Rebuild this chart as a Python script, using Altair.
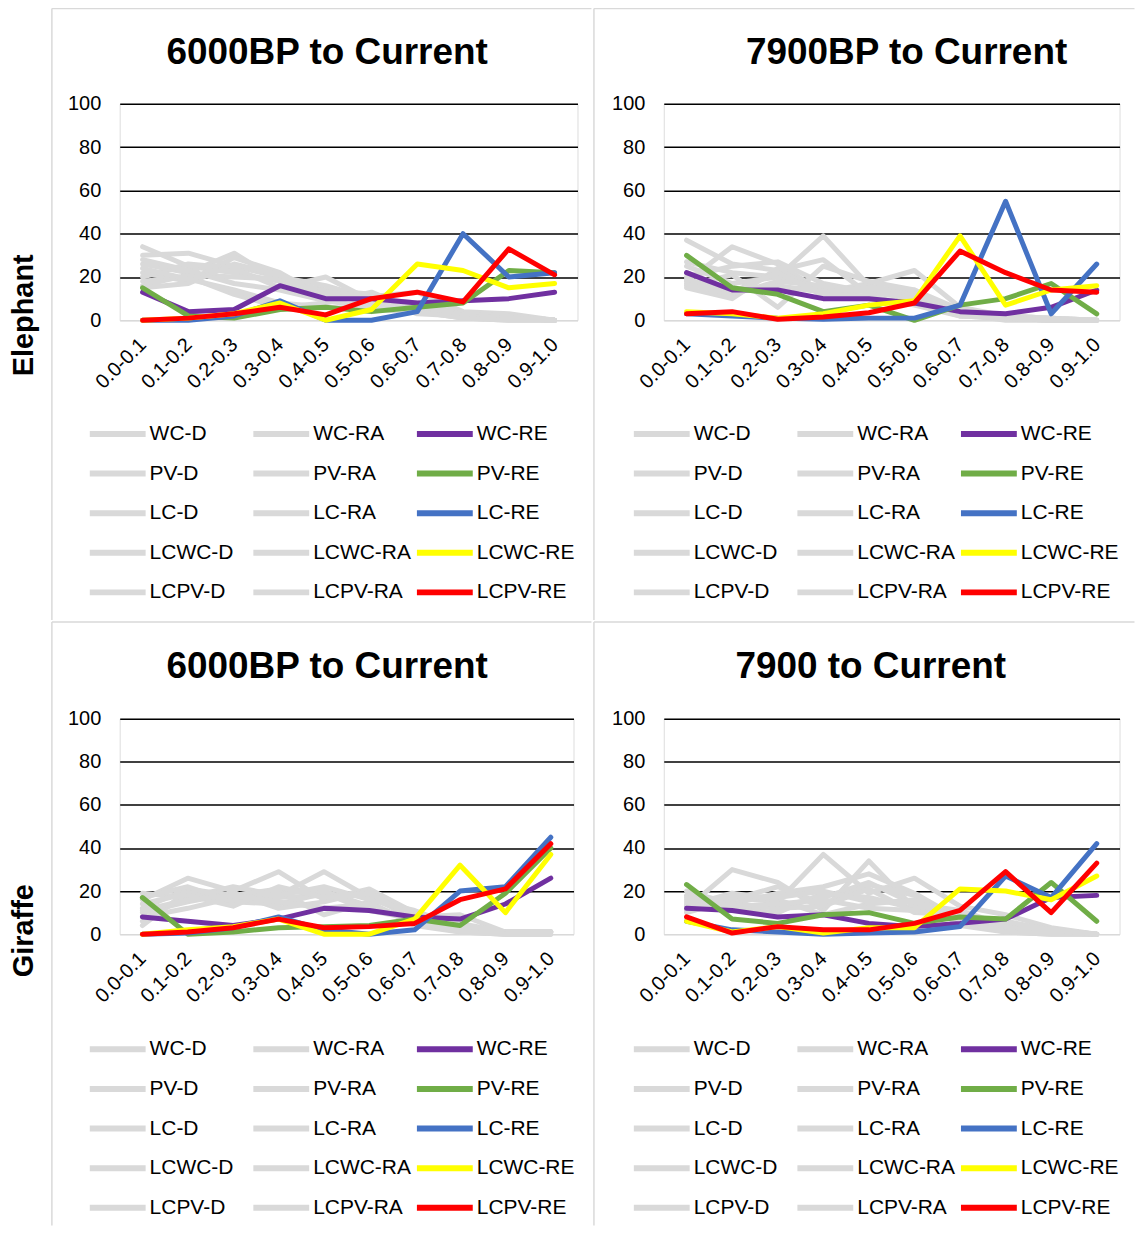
import altair as alt
import pandas as pd

CATS = ["0.0-0.1", "0.1-0.2", "0.2-0.3", "0.3-0.4", "0.4-0.5",
        "0.5-0.6", "0.6-0.7", "0.7-0.8", "0.8-0.9", "0.9-1.0"]
SERIES = ["WC-D", "WC-RA", "WC-RE", "PV-D", "PV-RA", "PV-RE",
          "LC-D", "LC-RA", "LC-RE", "LCWC-D", "LCWC-RA", "LCWC-RE",
          "LCPV-D", "LCPV-RA", "LCPV-RE"]
RE_SERIES = ["WC-RE", "PV-RE", "LC-RE", "LCWC-RE", "LCPV-RE"]
RE_COLORS = ["#7030A0", "#70AD47", "#4472C4", "#FFFF00", "#FF0000"]
GRAY = "#D9D9D9"

# Elephant, 6000BP to Current
ELE_6000 = {
    "WC-D":    [34, 25, 22, 18, 14, 12, 6, 2, 1, 0],
    "WC-RA":   [30, 31, 25, 20, 16, 10, 8, 3, 2, 0],
    "WC-RE":   [13, 4, 5, 16, 10, 10, 8, 9, 10, 13],
    "PV-D":    [26, 22, 31, 18, 12, 8, 5, 1, 0, 0],
    "PV-RA":   [22, 18, 29, 22, 10, 11, 13, 4, 3, 0],
    "PV-RE":   [15, 2, 1, 5, 6, 4, 6, 8, 23, 22],
    "LC-D":    [20, 26, 24, 15, 20, 9, 6, 2, 2, 0],
    "LC-RA":   [18, 20, 12, 6, 8, 13, 4, 1, 1, 0],
    "LC-RE":   [0, 0, 2, 9, 0, 0, 4, 40, 20, 22],
    "LCWC-D":  [16, 21, 20, 19, 13, 11, 3, 2, 1, 0],
    "LCWC-RA": [28, 23, 17, 14, 9, 6, 5, 3, 2, 0],
    "LCWC-RE": [0, 1, 3, 8, 0, 5, 26, 23, 15, 17],
    "LCPV-D":  [15, 17, 26, 21, 11, 10, 7, 2, 1, 0],
    "LCPV-RA": [24, 19, 14, 8, 6, 5, 4, 1, 0, 0],
    "LCPV-RE": [0, 1, 3, 6, 2.5, 10, 13, 8.5, 33, 21],
}

# Elephant, 7900BP to Current
ELE_7900 = {
    "WC-D":    [37, 26, 23, 28, 12, 14, 5, 2, 1, 0],
    "WC-RA":   [18, 34, 26, 13, 17, 23, 6, 2, 0, 0],
    "WC-RE":   [22, 14, 14, 10, 10, 8, 4, 3, 6, 14],
    "PV-D":    [27, 22, 20, 39, 16, 12, 3, 1, 0, 0],
    "PV-RA":   [20, 25, 27, 17, 13, 10, 4, 2, 1, 0],
    "PV-RE":   [30, 15, 12, 4, 7, 0, 7, 10, 17, 3],
    "LC-D":    [16, 21, 6, 25, 18, 14, 2, 1, 0, 0],
    "LC-RA":   [15, 10, 24, 11, 14, 12, 3, 1, 0, 0],
    "LC-RE":   [3, 2, 1, 0.5, 1, 1, 7, 55, 3, 26],
    "LCWC-D":  [25, 17, 20, 14, 10, 8, 2, 1, 0, 0],
    "LCWC-RA": [17, 12, 18, 16, 13, 11, 5, 2, 1, 0],
    "LCWC-RE": [4, 3, 1, 3, 7, 9, 39, 7, 14, 16],
    "LCPV-D":  [22, 14, 16, 13, 15, 9, 3, 0, 0, 0],
    "LCPV-RA": [19, 13, 22, 12, 11, 7, 2, 1, 0, 0],
    "LCPV-RE": [3, 4, 0.5, 1.5, 3.5, 8, 32, 22, 14, 13],
}

# Giraffe, 6000BP to Current
GIR_6000 = {
    "WC-D":    [16, 26, 20, 29, 16, 21, 10, 3, 1, 1],
    "WC-RA":   [19, 17, 22, 18, 29, 17, 8, 9, 1, 1],
    "WC-RE":   [8, 6, 4, 7, 12, 11, 8, 7, 14, 26],
    "PV-D":    [12, 21, 18, 21, 20, 13, 6, 2, 0, 0],
    "PV-RA":   [4, 20, 16, 17, 18, 18, 9, 5, 1, 1],
    "PV-RE":   [17, 0, 1, 3, 3.5, 4, 7, 4, 19, 40],
    "LC-D":    [10, 15, 19, 12, 15, 20, 5, 2, 1, 1],
    "LC-RA":   [14, 19, 14, 20, 9, 15, 4, 1, 0, 0],
    "LC-RE":   [0, 0.5, 3, 8, 2, 0, 2, 20, 22, 45],
    "LCWC-D":  [8, 12, 17, 18, 22, 16, 11, 3, 1, 1],
    "LCWC-RA": [17, 22, 15, 14, 19, 11, 7, 2, 1, 1],
    "LCWC-RE": [0, 2, 3.5, 7, 0, 0, 7, 32, 10, 37],
    "LCPV-D":  [6, 18, 13, 22, 17, 19, 8, 4, 1, 1],
    "LCPV-RA": [11, 16, 18, 15, 12, 14, 6, 1, 0, 0],
    "LCPV-RE": [0, 1, 3, 7, 3, 3.5, 5, 16, 21, 42],
}

# Giraffe, 7900 to Current
GIR_7900 = {
    "WC-D":    [12, 30, 24, 11, 34, 12, 6, 3, 1, 0],
    "WC-RA":   [16, 17, 15, 37, 19, 26, 13, 9, 3, 0],
    "WC-RE":   [12, 11, 8, 9, 5, 3.5, 5, 7, 17, 18],
    "PV-D":    [20, 14, 19, 22, 28, 19, 7, 2, 1, 0],
    "PV-RA":   [14, 11, 13, 17, 24, 14, 11, 4, 2, 0],
    "PV-RE":   [23, 7, 5, 9, 10, 5, 8, 7, 24, 6],
    "LC-D":    [10, 16, 22, 14, 23, 18, 4, 1, 0, 0],
    "LC-RA":   [18, 12, 10, 19, 17, 12, 8, 5, 2, 0],
    "LC-RE":   [6, 2, 1, 0, 0.5, 1, 3.5, 27, 17, 42],
    "LCWC-D":  [13, 19, 16, 9, 14, 16, 5, 2, 1, 0],
    "LCWC-RA": [15, 14, 12, 13, 21, 10, 9, 3, 1, 0],
    "LCWC-RE": [6, 1, 3.5, 0.5, 3, 3, 21, 20, 16, 27],
    "LCPV-D":  [11, 18, 17, 20, 15, 15, 6, 1, 0, 0],
    "LCPV-RA": [17, 13, 14, 16, 12, 11, 7, 6, 2, 0],
    "LCPV-RE": [8, 0.5, 3.5, 2, 2, 5, 11, 29, 10, 33],
}

Y_TICKS = [0, 20, 40, 60, 80, 100]
FONT = "Liberation Sans"
COLOR_RANGE = [RE_COLORS[RE_SERIES.index(s)] if s in RE_SERIES else GRAY for s in SERIES]
K_TITLE = 35.5  # title baseline sits this far above (bounds top - offset)


def to_df(d):
    rows = []
    for s in SERIES:
        for c, v in zip(CATS, d[s]):
            rows.append({"cat": c, "series": s, "value": v})
    return pd.DataFrame(rows)


def panel(d, title, geo, row_title=None, row_title_xy=None):
    px, py, w, h = geo["plot"]
    bx0, by0, bx1, by1 = geo["box"]
    df = to_df(d)
    x = alt.X("cat:N", sort=CATS, scale=alt.Scale(type="point", padding=0.5),
              axis=alt.Axis(title=None, labelAngle=-45, labelFontSize=20, labelFont=FONT,
                            labelColor="black", domain=False, ticks=False, grid=False,
                            labelPadding=21, labelAlign="right", labelBaseline="middle"))
    yaxis = dict(values=Y_TICKS, labelFontSize=20, labelFont=FONT, labelColor="black",
                 domain=False, ticks=False, labelPadding=19, grid=True, gridWidth=1.5,
                 gridColor={"condition": {"test": "datum.value === 0", "value": GRAY},
                            "value": "black"})
    if row_title:
        tx, ty = row_title_xy
        yaxis.update(title=row_title, titleFontSize=29, titleFont=FONT, titleFontWeight="bold",
                     titleColor="black", titleAngle=-90, titleAlign="center",
                     titleBaseline="middle", titleX=tx - px, titleY=ty - py)
    else:
        yaxis.update(title=None)
    y = alt.Y("value:Q", scale=alt.Scale(domain=[0, 100], nice=False), axis=alt.Axis(**yaxis))
    color = alt.Color("series:N", scale=alt.Scale(domain=SERIES, range=COLOR_RANGE),
                      legend=alt.Legend(title=None, orient="none", legendX=geo["legend_x"] - px - 2,
                                        legendY=geo["legend_y"] - py - 9, columns=3,
                                        direction="horizontal", clipHeight=21,
                                        symbolType="stroke", symbolSize=3136,
                                        symbolStrokeWidth=6, labelFontSize=21,
                                        labelFont=FONT, labelColor="black", labelOffset=1,
                                        labelLimit=300, rowPadding=17.7, columnPadding=3,
                                        gridAlign="all", padding=0, symbolOffset=0))
    base = alt.Chart(df).mark_line(strokeWidth=5, strokeJoin="round", strokeCap="round").encode(
        x=x, y=y, color=color)
    grays = [s for s in SERIES if s not in RE_SERIES]
    layers = [base.transform_filter(alt.FieldOneOfPredicate(field="series", oneOf=grays))]
    for s in RE_SERIES:
        layers.append(base.transform_filter(alt.FieldEqualPredicate(field="series", equal=s)))
    # light grey chart-area frame (left and top edges)
    frame = alt.Chart(pd.DataFrame({"k": [0]})).mark_rule(color=GRAY, strokeWidth=1.5)
    layers.append(frame.encode(x=alt.value(bx0 - px), y=alt.value(by0 - py), y2=alt.value(by1 - py)))
    layers.append(frame.encode(x=alt.value(bx0 - px), x2=alt.value(bx1 - px), y=alt.value(by0 - py)))
    top_bound = by0 - py - 0.75
    baseline = geo["title_baseline"] - py
    offset = top_bound - K_TITLE - baseline
    return alt.layer(*layers).properties(
        width=w, height=h,
        title=alt.TitleParams(title, fontSize=37, font=FONT, fontWeight="bold", color="black",
                              anchor="middle", frame="group", dx=geo["title_cx"] - (px + w / 2),
                              offset=offset, baseline="alphabetic"))


G1 = {"plot": (121, 103.5, 459, 217), "box": (53, 8, 594, 621), "legend_x": 90,
      "legend_y": 433, "title_cx": 329, "title_baseline": 65}
G2 = {"plot": (664, 103.5, 457, 217), "box": (594, 8, 1136, 621), "legend_x": 633,
      "legend_y": 433, "title_cx": 907.5, "title_baseline": 65}
G3 = {"plot": (121, 718, 455, 216), "box": (53, 621, 594, 1226), "legend_x": 90,
      "legend_y": 1048, "title_cx": 329, "title_baseline": 679}
G4 = {"plot": (664, 718, 457, 216), "box": (594, 621, 1136, 1226), "legend_x": 633,
      "legend_y": 1048, "title_cx": 871.5, "title_baseline": 679}

p1 = panel(ELE_6000, "6000BP to Current", G1, row_title="Elephant", row_title_xy=(25, 315))
p2 = panel(ELE_7900, "7900BP to Current", G2)
p3 = panel(GIR_6000, "6000BP to Current", G3, row_title="Giraffe", row_title_xy=(25, 930))
p4 = panel(GIR_7900, "7900 to Current", G4)

row1 = alt.hconcat(p1, p2, spacing=-1.5).resolve_scale(color="independent")
row2 = alt.hconcat(p3, p4, spacing=-1.5).resolve_scale(color="independent")
chart = alt.vconcat(row1, row2, spacing=-1.5).resolve_scale(color="independent").properties(
    padding={"left": 1, "top": -2.5, "right": 0, "bottom": 0}
).configure_view(stroke=None).configure(background="white")

chart.save("out.html", embed_options={"renderer": "svg", "actions": False})
